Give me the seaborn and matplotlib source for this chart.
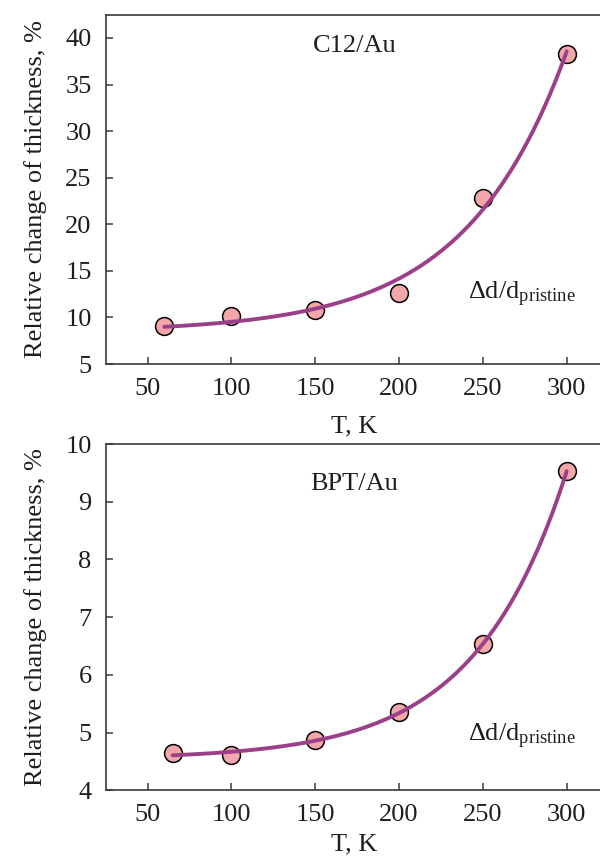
import numpy as np
import pandas as pd
import matplotlib
matplotlib.use("Agg")
import matplotlib.pyplot as plt
import seaborn as sns

# Measured relative thickness change vs temperature
temp_c12 = [60, 100, 150, 200, 250, 300]
dd_c12 = [9.1, 10.15, 10.8, 12.6, 22.8, 38.3]

temp_bpt = [65, 100, 150, 200, 250, 300]
dd_bpt = [4.64, 4.62, 4.87, 5.35, 6.53, 9.53]

x_ticks = [50, 100, 150, 200, 250, 300]
y_ticks_c12 = [5, 10, 15, 20, 25, 30, 35, 40]
y_ticks_bpt = [4, 5, 6, 7, 8, 9, 10]

sns.set_theme(style="ticks")
plt.rcParams["font.family"] = ["Liberation Serif", "DejaVu Serif"]
plt.rcParams["mathtext.fontset"] = "custom"
plt.rcParams["mathtext.rm"] = "Liberation Serif"
plt.rcParams["mathtext.it"] = "Liberation Serif:italic"

LINE = "#9c3f8a"
FILL = "#f4a7aa"
SPINE = "#3a3a3a"
TXT = "#1e1e1e"
FS = 19


def exp_fit(t, y):
    """Least-squares fit of y = a + b*exp(t/t0), scanning t0."""
    t = np.asarray(t, float)
    y = np.asarray(y, float)
    best = None
    for t0 in np.linspace(20, 200, 1801):
        A = np.column_stack([np.ones_like(t), np.exp(t / t0)])
        coef, *_ = np.linalg.lstsq(A, y, rcond=None)
        r = np.sum((A @ coef - y) ** 2)
        if best is None or r < best[0]:
            best = (r, t0, coef)
    _, t0, (a, b) = best
    tt = np.linspace(t.min(), t.max(), 300)
    return tt, a + b * np.exp(tt / t0)


fig = plt.figure(figsize=(6, 8.6), dpi=100)
ax1 = fig.add_axes([0.176, 0.5767, 0.83, 0.4063])
ax2 = fig.add_axes([0.176, 0.081, 0.83, 0.4027])


def panel(ax, t, y, yticks, ylim, name, name_y, ratio_y, xpad):
    df = pd.DataFrame({"T": t, "d": y})
    tt, yy = exp_fit(t, y)
    fit = pd.DataFrame({"T": tt, "d": yy})
    sns.scatterplot(data=df, x="T", y="d", ax=ax, s=165, color=FILL,
                    edgecolor="black", linewidth=1.1, zorder=3)
    sns.lineplot(data=fit, x="T", y="d", ax=ax, color=LINE, linewidth=2.8,
                 zorder=4)
    ax.set_xlim(25, 322)
    ax.set_ylim(*ylim)
    ax.set_xticks(x_ticks)
    ax.set_yticks(yticks)
    ax.tick_params(direction="in", length=5, width=1.1, color=SPINE,
                   labelsize=FS, labelcolor=TXT, pad=10)
    for s in ("left", "bottom", "top"):
        ax.spines[s].set_color(SPINE)
        ax.spines[s].set_linewidth(1.2)
    ax.spines["right"].set_visible(False)
    ax.set_xlabel("T, K", fontsize=FS, color=TXT, labelpad=xpad)
    ax.set_ylabel("Relative change of thickness, %", fontsize=FS,
                  color=TXT, labelpad=13)
    ax.text(0.5, name_y, name, transform=ax.transAxes, fontsize=FS,
            color=TXT, ha="center", va="center")
    ax.text(0.835, ratio_y, r"$\Delta$d/d$_{\mathrm{pristine}}$",
            transform=ax.transAxes, fontsize=FS, color=TXT,
            ha="center", va="center")


panel(ax1, temp_c12, dd_c12, y_ticks_c12, (5, 42.5), "C12/Au", 0.91, 0.2, 11)
panel(ax2, temp_bpt, dd_bpt, y_ticks_bpt, (4, 10), "BPT/Au", 0.885, 0.155, 5)

fig.savefig("out.png", dpi=100)
